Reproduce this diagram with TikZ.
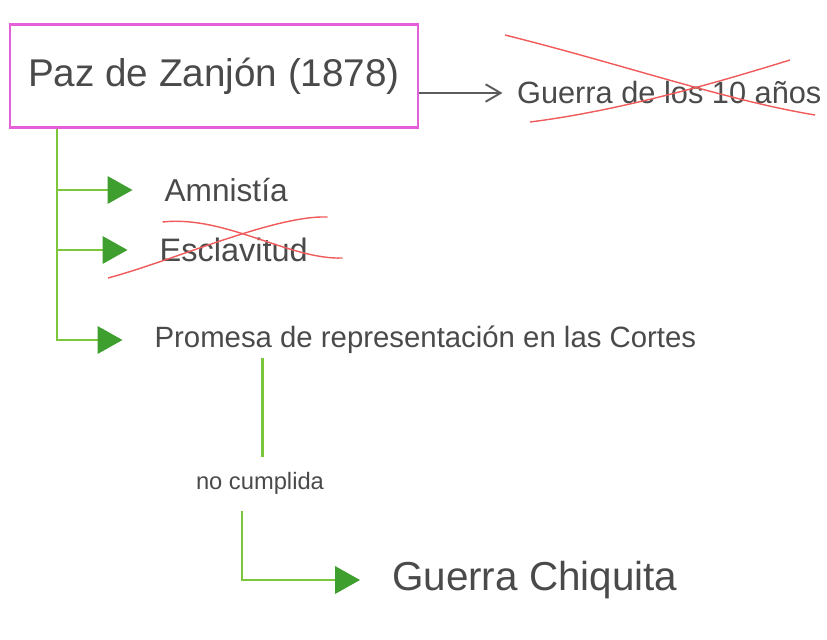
\documentclass[tikz,border=0pt]{standalone}
\usepackage{fontspec}
\setmainfont{Liberation Sans}
\usepackage{xcolor}
\definecolor{cPink}{HTML}{E55FD8}
\definecolor{cInk}{HTML}{4A4A4A}
\definecolor{cGreen}{HTML}{7CC63C}
\definecolor{cHead}{HTML}{3E9E2E}
\definecolor{cCross}{HTML}{F05A5A}
\usepackage{tikz}
\usetikzlibrary{positioning,arrows.meta,calc}
\tikzset{
  node-box/.style={draw=cPink,line width=1.6pt,minimum width=8.16cm,
    minimum height=2.06cm,text=cInk,font=\fontsize{22}{24}\selectfont},
  node-text/.style={text=cInk,anchor=west,inner sep=1pt},
  arrow-gray/.style={-{Straight Barb[length=3mm,width=3.5mm]},line width=1.1pt,
    draw=cInk!90,shorten >=2.5mm},
  line-green/.style={line width=1.2pt,draw=cGreen},
  arrow-green/.style={-{Triangle[length=5mm,width=5.5mm,color=cHead]},line width=1.2pt,
    draw=cGreen,shorten >=6mm},
  cross/.style={line width=0.8pt,draw=cCross},
}
\begin{document}
\begin{tikzpicture}
  \useasboundingbox (0,0) rectangle (16.54,-12.78);
  \node[node-box] (paz) at (4.28,-1.52) {Paz de Zanjón (1878)};
  \node[node-text,font=\fontsize{17.5}{20}\selectfont] (guerra) at (10.3,-1.86) {Guerra de los 10 años};
  \node[node-text,font=\fontsize{18}{20}\selectfont] (amnistia) at (3.25,-3.8) {Amnistía};
  \node[node-text,font=\fontsize{18.5}{20}\selectfont] (esclav) at (3.15,-5.0) {Esclavitud};
  \node[node-text,font=\fontsize{16.7}{19}\selectfont] (promesa) at (3.05,-6.8) {Promesa de representación en las Cortes};
  \node[node-text,anchor=center,font=\fontsize{13.5}{15}\selectfont] (cumplida) at (5.2,-9.66) {no cumplida};
  \node[node-text,font=\fontsize{23}{26}\selectfont] (chiquita) at (7.8,-11.6) {Guerra Chiquita};

  \draw[arrow-gray] (paz.east |- guerra.west) -- (guerra.west);

  % tachados
  \draw[cross] (10.1,-0.7) .. controls (12.5,-1.3) and (14.5,-2.0) .. (16.3,-2.3);
  \draw[cross] (10.6,-2.44) .. controls (12.5,-2.2) and (14.5,-1.6) .. (15.8,-1.2);
  \draw[cross] (3.25,-4.44) .. controls (4.5,-4.3) and (5.8,-5.2) .. (6.85,-5.16);
  \draw[cross] (2.16,-5.56) .. controls (3.5,-5.2) and (5.5,-4.3) .. (6.55,-4.34);

  % ramas
  \coordinate (trunk) at ($(paz.south west)+(0.96,0)$);
  \draw[arrow-green] (trunk |- amnistia) -- (amnistia.west);
  \draw[arrow-green] (trunk |- esclav) -- (esclav.west);
  \draw[arrow-green] (trunk) |- (promesa.west);

  \coordinate (promesa-out) at ($(promesa.south west)+(2.2,-0.05)$);
  \draw[line-green] (promesa-out) -- ($(promesa-out |- cumplida.north)+(0,0.25)$);
  \draw[arrow-green] ($(cumplida.south)+(-0.36,-0.3)$) |- (chiquita.west);
\end{tikzpicture}
\end{document}
